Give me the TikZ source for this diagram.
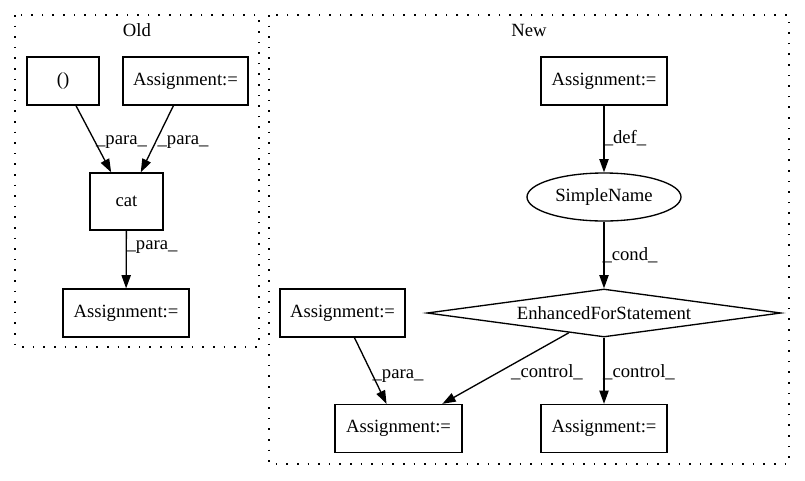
\documentclass[tikz,border=0pt]{standalone}
\usepackage{fontspec}
\setmainfont{Liberation Serif}
\usetikzlibrary{shapes.geometric,arrows.meta}
\begin{document}
\begin{tikzpicture}[x=1pt,y=-1pt,
  every node/.style={font=\fontsize{18.67}{22}\selectfont, inner sep=0pt},
  box/.style={draw, line width=1.33pt, rectangle, minimum width=#1, minimum height=48pt},
  box/.default=126pt,
  oval/.style={draw, line width=1.33pt, ellipse, minimum width=154pt, minimum height=48pt},
  decision/.style={draw, line width=1.33pt, diamond, shape aspect=7.4, minimum width=354pt, minimum height=48pt},
  link/.style={draw, line width=1.33pt, -{Triangle[length=13.3pt,width=9.3pt]}},
  cluster/.style={draw, line width=1.33pt, dash pattern=on 1.6pt off 9pt},
  lbl/.style={}
]
\useasboundingbox (0,0) rectangle (805,480);

% clusters
\draw[cluster] (15,15) rectangle (259,347);
\draw[cluster] (269,15) rectangle (789,464);
\node[lbl] (tOld) at (137,30) {Old};
\node[lbl] (tNew) at (529,30) {New};

% Old nodes
\node[box=72pt] (o1) at (63,81) {()};
\node[box=125pt] (o2) at (185.5,81) {Assignment:=};
\node[box=73pt, minimum height=57pt] (cat) at (126.5,201.5) {cat};
\node[box=126pt] (o3) at (126,313) {Assignment:=};

\draw[link] (o1) -- (cat);
\draw[link] (o2) -- (cat);
\draw[link] (cat) -- (o3);
\node[lbl] (l1) at (121.5,142) {\_para\_};
\node[lbl] (l2) at (183,142) {\_para\_};
\node[lbl] (l3) at (152,247) {\_para\_};

% New nodes
\node[box=126pt] (n1) at (604,81) {Assignment:=};
\node[oval] (sn) at (604,197) {SimpleName};
\node[decision] (efs) at (604,313) {EnhancedForStatement};
\node[box=125pt] (n2) at (342.5,313) {Assignment:=};
\node[box=127pt] (n3) at (398.5,428.5) {Assignment:=};
\node[box=126pt] (n4) at (604,428.5) {Assignment:=};

\draw[link] (n1) -- (sn);
\draw[link] (sn) -- (efs);
\draw[link] (efs) -- (n3);
\draw[link] (efs) -- (n4);
\draw[link] (n2) -- (n3);
\node[lbl] (l4) at (625,138) {\_def\_};
\node[lbl] (l5) at (630,255) {\_cond\_};
\node[lbl] (l6) at (398,376) {\_para\_};
\node[lbl] (l7) at (547,372) {\_control\_};
\node[lbl] (l8) at (639,372) {\_control\_};
\end{tikzpicture}
\end{document}
